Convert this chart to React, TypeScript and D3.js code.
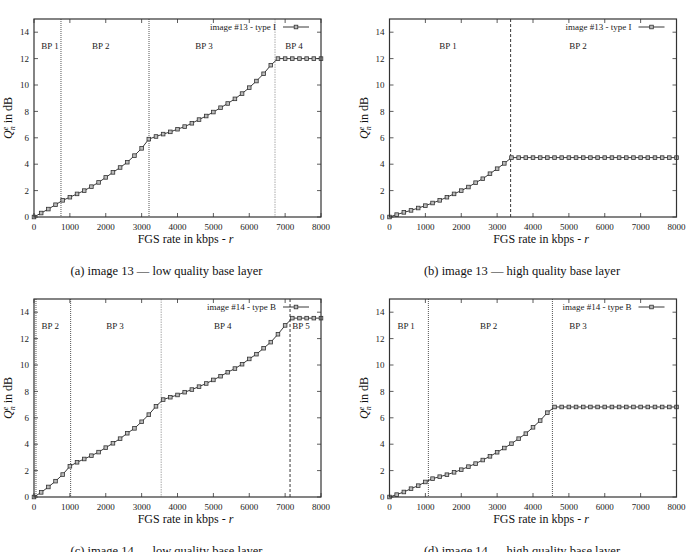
import React, { useEffect, useRef } from 'react';
import * as d3 from 'd3';

// FGS rate samples (kbps), shared by all four panels
const rates = [
  0, 200, 400, 600, 800, 1000, 1200, 1400, 1600, 1800, 2000, 2200, 2400, 2600,
  2800, 3000, 3200, 3400, 3600, 3800, 4000, 4200, 4400, 4600, 4800, 5000, 5200,
  5400, 5600, 5800, 6000, 6200, 6400, 6600, 6800, 7000, 7200, 7400, 7600, 7800, 8000,
];

const qA = [
  0, 0.3, 0.6, 0.93, 1.26, 1.5, 1.75, 2.0, 2.3, 2.62, 3.0, 3.38, 3.75, 4.15,
  4.65, 5.2, 5.9, 6.1, 6.28, 6.45, 6.65, 6.85, 7.1, 7.38, 7.65, 7.95, 8.28,
  8.6, 8.95, 9.35, 9.8, 10.3, 10.85, 11.5, 12.0, 12.0, 12.0, 12.0, 12.0, 12.0, 12.0,
];
const qB = [
  0, 0.18, 0.35, 0.5, 0.68, 0.86, 1.06, 1.26, 1.5, 1.75, 2.0, 2.27, 2.6, 2.9,
  3.28, 3.66, 4.06, 4.5, 4.5, 4.5, 4.5, 4.5, 4.5, 4.5, 4.5, 4.5, 4.5,
  4.5, 4.5, 4.5, 4.5, 4.5, 4.5, 4.5, 4.5, 4.5, 4.5, 4.5, 4.5, 4.5, 4.5,
];
const qC = [
  0, 0.35, 0.76, 1.2, 1.7, 2.33, 2.63, 2.88, 3.13, 3.4, 3.74, 4.07, 4.42, 4.83,
  5.2, 5.7, 6.24, 6.87, 7.38, 7.56, 7.73, 7.94, 8.14, 8.36, 8.6, 8.87, 9.15,
  9.45, 9.73, 10.06, 10.46, 10.82, 11.27, 11.73, 12.33, 13.0, 13.55, 13.55, 13.55, 13.55, 13.55,
];
const qD = [
  0, 0.18, 0.38, 0.63, 0.86, 1.14, 1.39, 1.54, 1.69, 1.87, 2.07, 2.3, 2.53, 2.8,
  3.08, 3.39, 3.71, 4.04, 4.42, 4.8, 5.28, 5.79, 6.39, 6.82, 6.82, 6.82, 6.82,
  6.82, 6.82, 6.82, 6.82, 6.82, 6.82, 6.82, 6.82, 6.82, 6.82, 6.82, 6.82, 6.82, 6.82,
];

const xTicks = [0, 1000, 2000, 3000, 4000, 5000, 6000, 7000, 8000];
const yTicks = [0, 2, 4, 6, 8, 10, 12, 14];

// breakpoint lines: rate + line style
const bpLinesA = [{ r: 752, s: 'dot' }, { r: 3206, s: 'dot' }, { r: 6718, s: 'gray' }];
const bpLinesB = [{ r: 3376, s: 'dash' }];
const bpLinesC = [{ r: 55, s: 'dot' }, { r: 1021, s: 'dot' }, { r: 3545, s: 'gray' }, { r: 7137, s: 'dash' }];
const bpLinesD = [{ r: 1084, s: 'dot' }, { r: 4541, s: 'dot' }];

const bpLabelsA = [{ r: 446, t: 'BP 1' }, { r: 1859, t: 'BP 2' }, { r: 4739, t: 'BP 3' }, { r: 7247, t: 'BP 4' }];
const bpLabelsB = [{ r: 1632, t: 'BP 1' }, { r: 5256, t: 'BP 2' }];
const bpLabelsC = [{ r: 455, t: 'BP 2' }, { r: 2258, t: 'BP 3' }, { r: 5262, t: 'BP 4' }, { r: 7443, t: 'BP 5' }];
const bpLabelsD = [{ r: 464, t: 'BP 1' }, { r: 2763, t: 'BP 2' }, { r: 5256, t: 'BP 3' }];

const panels = [
  { ox: 0, oy: 0, q: qA, lines: bpLinesA, labels: bpLabelsA, legend: 'image #13 - type I', caption: '(a) image 13 — low quality base layer' },
  { ox: 355.5, oy: 0, q: qB, lines: bpLinesB, labels: bpLabelsB, legend: 'image #13 - type I', caption: '(b) image 13 — high quality base layer' },
  { ox: 0, oy: 280, q: qC, lines: bpLinesC, labels: bpLabelsC, legend: 'image #14 - type B', caption: '(c) image 14 — low quality base layer' },
  { ox: 355.5, oy: 280, q: qD, lines: bpLinesD, labels: bpLabelsD, legend: 'image #14 - type B', caption: '(d) image 14 — high quality base layer' },
];

const FONT = '"Liberation Serif", "DejaVu Serif", serif';

const App = () => {
  const svgRef = useRef<SVGSVGElement>(null);

  useEffect(() => {
    const svg = d3.select(svgRef.current);
    svg.selectAll('*').remove();

    const left = 34, right = 321, top = 19, bottom = 217;
    const x = d3.scaleLinear().domain([0, 8000]).range([left, right]);
    const y = d3.scaleLinear().domain([0, 15]).range([bottom, top]);
    const tick = 4;

    panels.forEach(p => {
      const g = svg.append('g').attr('transform', `translate(${p.ox},${p.oy})`)
        .style('font-family', FONT);

      // ticks (gnuplot style, inward on all sides)
      xTicks.forEach(t => {
        g.append('line').attr('x1', x(t)).attr('x2', x(t)).attr('y1', bottom).attr('y2', bottom - tick)
          .attr('stroke', '#333').attr('stroke-width', 0.8);
        g.append('line').attr('x1', x(t)).attr('x2', x(t)).attr('y1', top).attr('y2', top + tick)
          .attr('stroke', '#333').attr('stroke-width', 0.8);
        g.append('text').attr('x', x(t)).attr('y', bottom + 13).attr('text-anchor', 'middle')
          .style('font-size', '9px').attr('fill', '#222').text(t);
      });
      yTicks.forEach(t => {
        g.append('line').attr('x1', left).attr('x2', left + tick).attr('y1', y(t)).attr('y2', y(t))
          .attr('stroke', '#333').attr('stroke-width', 0.8);
        g.append('line').attr('x1', right).attr('x2', right - tick).attr('y1', y(t)).attr('y2', y(t))
          .attr('stroke', '#333').attr('stroke-width', 0.8);
        g.append('text').attr('x', left - 5).attr('y', y(t)).attr('dy', '0.35em').attr('text-anchor', 'end')
          .style('font-size', '9px').attr('fill', '#222').text(t);
      });

      // breakpoint lines
      p.lines.forEach(l => {
        const style = l.s === 'dash'
          ? { c: '#222', d: '3,2', w: 0.9 }
          : l.s === 'gray'
            ? { c: '#aaa', d: '1.5,1', w: 1 }
            : { c: '#555', d: '1,1', w: 1 };
        g.append('line').attr('x1', x(l.r)).attr('x2', x(l.r)).attr('y1', top).attr('y2', bottom)
          .attr('stroke', style.c).attr('stroke-dasharray', style.d).attr('stroke-width', style.w);
      });

      p.labels.forEach(l => {
        g.append('text').attr('x', x(l.r)).attr('y', top + 30).attr('text-anchor', 'middle')
          .style('font-size', '9px').attr('fill', '#222').text(l.t);
      });

      // data line + markers
      const pts = rates.map((r, i) => [r, p.q[i]] as [number, number]);
      g.append('path').datum(pts)
        .attr('d', d3.line<[number, number]>().x(d => x(d[0])).y(d => y(d[1])))
        .attr('fill', 'none').attr('stroke', '#222').attr('stroke-width', 0.9);
      const ms = 3.6;
      g.selectAll('.mk').data(pts).enter().append('rect')
        .attr('x', d => x(d[0]) - ms / 2).attr('y', d => y(d[1]) - ms / 2)
        .attr('width', ms).attr('height', ms)
        .attr('fill', '#bbb').attr('stroke', '#333').attr('stroke-width', 0.8);

      // frame
      g.append('rect').attr('x', left).attr('y', top).attr('width', right - left).attr('height', bottom - top)
        .attr('fill', 'none').attr('stroke', '#333').attr('stroke-width', 1.2);

      // legend
      const ly = top + 8;
      g.append('text').attr('x', right - 45).attr('y', ly).attr('dy', '0.35em').attr('text-anchor', 'end')
        .style('font-size', '9px').attr('fill', '#222').text(p.legend);
      g.append('line').attr('x1', right - 38).attr('x2', right - 12).attr('y1', ly).attr('y2', ly)
        .attr('stroke', '#222').attr('stroke-width', 0.9);
      g.append('rect').attr('x', right - 25 - ms / 2).attr('y', ly - ms / 2).attr('width', ms).attr('height', ms)
        .attr('fill', '#bbb').attr('stroke', '#333').attr('stroke-width', 0.8);

      // axis labels
      g.append('text').attr('x', (left + right) / 2 + 8).attr('y', bottom + 26).attr('text-anchor', 'middle')
        .style('font-size', '12px').attr('fill', '#111')
        .call(t => {
          t.append('tspan').text('FGS rate in kbps - ');
          t.append('tspan').style('font-style', 'italic').text('r');
        });

      const yl = g.append('text')
        .attr('transform', `translate(${left - 22},${(top + bottom) / 2}) rotate(-90)`)
        .attr('text-anchor', 'middle').style('font-size', '12px').attr('fill', '#111');
      yl.append('tspan').style('font-style', 'italic').text('Q');
      yl.append('tspan').style('font-style', 'italic').style('font-size', '8px').attr('dy', -4).text('e');
      yl.append('tspan').style('font-style', 'italic').style('font-size', '8px').attr('dx', -3.6).attr('dy', 7).text('n');
      yl.append('tspan').attr('dy', -3).text(' in dB');

      // caption
      g.append('text').attr('x', (left + right) / 2 - 11).attr('y', bottom + 58).attr('text-anchor', 'middle')
        .style('font-size', '12.5px').attr('fill', '#111').text(p.caption);
    });
  }, []);

  return (
    <svg ref={svgRef} width={692} height={552}
      style={{ position: 'absolute', left: 0, top: 0, background: '#fff' }} />
  );
};

export default App;
